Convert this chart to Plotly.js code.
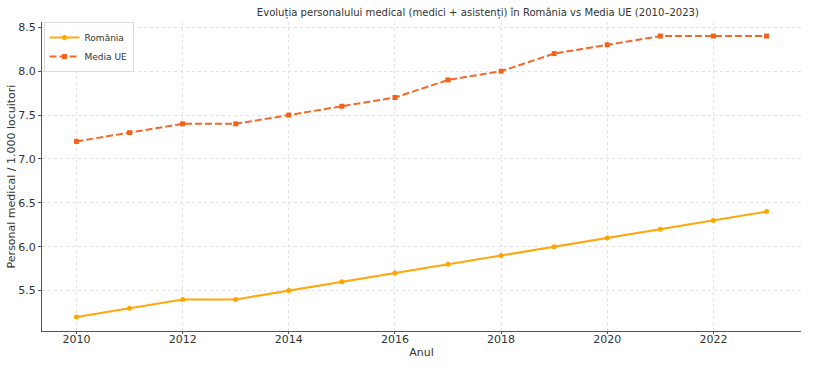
<!DOCTYPE html>
<html><head><meta charset="utf-8">
<script src="https://cdn.plot.ly/plotly-3.0.1.min.js"></script>
<style>body{margin:0;background:#fff}#c{width:819px;height:390px}</style>
</head><body><div id="c"></div>
<script>
const years = [2010,2011,2012,2013,2014,2015,2016,2017,2018,2019,2020,2021,2022,2023];
const romania = [5.2,5.3,5.4,5.4,5.5,5.6,5.7,5.8,5.9,6.0,6.1,6.2,6.3,6.4];
const mediaUE = [7.2,7.3,7.4,7.4,7.5,7.6,7.7,7.9,8.0,8.2,8.3,8.4,8.4,8.4];
const xTicks = [2010,2012,2014,2016,2018,2020,2022];
const yTicks = [5.5,6.0,6.5,7.0,7.5,8.0,8.5];

const fam = 'DejaVu Sans, sans-serif';
const famTitle = 'DejaVu Sans Condensed, DejaVu Sans, sans-serif';
const font = {family:fam, size:11, color:'#333'};
const traces = [
  {x:years, y:romania, name:'România', mode:'lines+markers',
   line:{color:'#FFA70F', width:2}, marker:{symbol:'circle', size:5, color:'#FFA500'}},
  {x:years, y:mediaUE, name:'Media UE', mode:'lines+markers',
   line:{color:'#F4682A', width:2, dash:'7px,3px'}, marker:{symbol:'square', size:5, color:'#F26218'}}
];
const layout = {
  width:819, height:390,
  margin:{l:42, r:18, t:22, b:59},
  paper_bgcolor:'#fff', plot_bgcolor:'#fff',
  font:font,
  title:{text:'Evoluția personalului medical (medici + asistenți) în România vs Media UE (2010–2023)',
         font:{family:famTitle, size:11.2, color:'#333'}, x:0.5835, xanchor:'center', y:0.968, yanchor:'middle'},
  xaxis:{range:[2009.35,2023.65], tickvals:xTicks, ticktext:xTicks.map(String),
         showline:true, linecolor:'#555', linewidth:1, ticks:'outside', ticklen:2, tickcolor:'#555',
         ticklabelstandoff:-4,
         showgrid:true, gridcolor:'#e2e2e2', griddash:'dot', gridwidth:1, zeroline:false,
         title:{text:'Anul', font:{size:11, color:'#333'}, standoff:3}},
  yaxis:{range:[5.04,8.56], tickvals:yTicks, ticktext:yTicks.map(v=>v.toFixed(1)),
         showline:true, linecolor:'#555', linewidth:1, ticks:'outside', ticklen:3, tickcolor:'#555',
         showgrid:true, gridcolor:'#e2e2e2', griddash:'dot', gridwidth:1, zeroline:false,
         title:{text:'Personal medical / 1.000 locuitori', font:{size:11, color:'#333'}, standoff:0}},
  legend:{x:0.002, y:1.0, xanchor:'left', yanchor:'top', bgcolor:'rgba(255,255,255,0.8)',
          bordercolor:'#ddd', borderwidth:1, font:{size:9, color:'#333'}, tracegroupgap:0, itemwidth:30},
  showlegend:true
};
Plotly.newPlot('c', traces, layout, {displayModeBar:false, staticPlot:true});
</script></body></html>
